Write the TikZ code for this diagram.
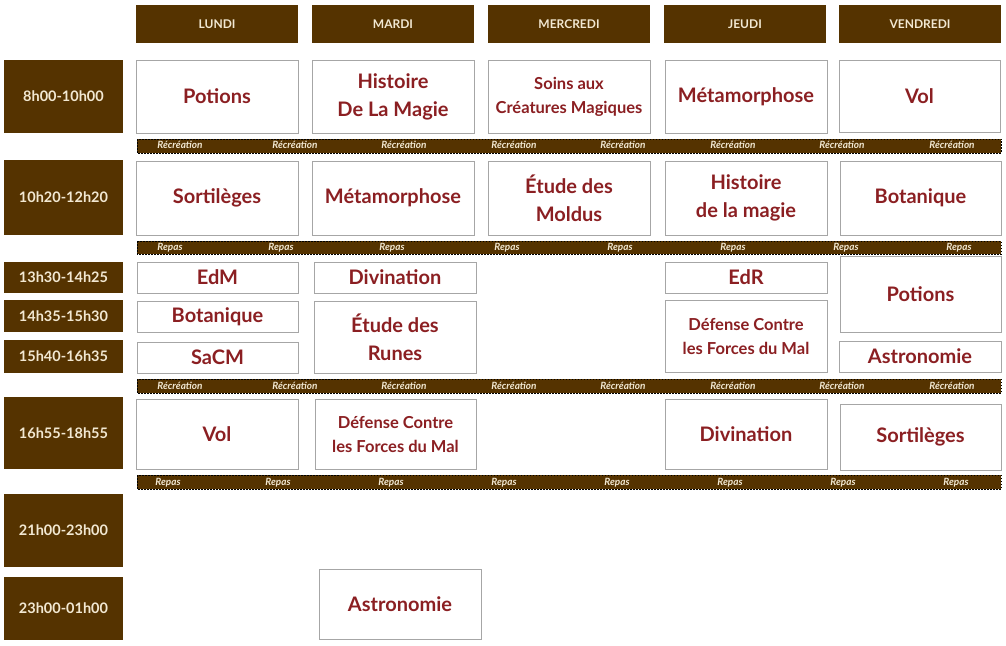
\documentclass[tikz,border=0pt]{standalone}
\usepackage{fontspec}
\setmainfont{Lato}
\begin{document}
\definecolor{br}{HTML}{553300}
\definecolor{rd}{HTML}{8B1F22}
\definecolor{cr}{HTML}{F2E8D2}
\begin{tikzpicture}[x=1pt,y=-1pt,
 cell/.style={draw=gray!70,line width=0.8pt,fill=white,text=rd,font=\bfseries\fontsize{20}{28}\selectfont,align=center},
 small/.style={cell,font=\bfseries\fontsize{16.5}{24}\selectfont},
 hdr/.style={fill=br,text=cr,font=\bfseries\fontsize{12}{14}\selectfont},
 tm/.style={fill=br,text=cr,font=\bfseries\fontsize{14.5}{17}\selectfont},
 bar/.style={fill=br,draw=black,dash pattern=on 1.5pt off 1.5pt,line width=1pt},
 bl/.style={text=cr,font=\bfseries\itshape\fontsize{10}{12}\selectfont}]
\useasboundingbox (0,0) rectangle (1006,645);
\newcommand{\bx}[6]{\node[#1,minimum width={#4-#2},minimum height={#5-#3},inner sep=0pt] (#6) at ({(#2+#4)/2},{(#3+#5)/2})}
% headers
\bx{hdr}{136}{5}{298}{43}{h1} {LUNDI};
\bx{hdr}{312}{5}{474}{43}{h2} {MARDI};
\bx{hdr}{488}{5}{650}{43}{h3} {MERCREDI};
\bx{hdr}{664}{5}{826}{43}{h4} {JEUDI};
\bx{hdr}{839}{5}{1001}{43}{h5} {VENDREDI};
% times
\bx{tm}{4}{60}{123}{133}{t1} {8h00-10h00};
\bx{tm}{4}{160}{123}{235}{t2} {10h20-12h20};
\bx{tm}{4}{262}{123}{293}{t3} {13h30-14h25};
\bx{tm}{4}{300}{123}{332}{t4} {14h35-15h30};
\bx{tm}{4}{340}{123}{373}{t5} {15h40-16h35};
\bx{tm}{4}{397}{123}{469}{t6} {16h55-18h55};
\bx{tm}{4}{494}{123}{567}{t7} {21h00-23h00};
\bx{tm}{4}{577}{123}{640}{t8} {23h00-01h00};
% bars
\draw[bar] (137,139) rectangle (1001,153);
\draw[bar] (137,241) rectangle (1001,254);
\draw[bar] (137,379) rectangle (1001,393);
\draw[bar] (137,475) rectangle (1001,489);
\foreach \x [count=\i] in {180,295,404,514,623,733,842,952}{
 \node[bl] (ra\i) at (\x,145) {Récréation};
 \node[bl] (rb\i) at (\x,386) {Récréation};}
\foreach \x [count=\i] in {170,281,392,507,620,733,846,959}{
 \node[bl] (pa\i) at (\x,247.5) {Repas};}
\foreach \x [count=\i] in {168,278,391,504,617,730,843,956}{
 \node[bl] (pb\i) at (\x,483) {Repas};}
% row 1
\bx{cell}{136}{60}{298}{133}{c11} {Potions};
\bx{cell}{312}{60}{474}{133}{c12} {Histoire\\De La Magie};
\bx{small}{488}{60}{650}{133}{c13} {Soins aux\\Créatures Magiques};
\bx{cell}{665}{60}{827}{133}{c14} {Métamorphose};
\bx{cell}{839}{60}{1000}{132}{c15} {Vol};
% row 2
\bx{cell}{136}{161}{298}{235}{c21} {Sortilèges};
\bx{cell}{312}{161}{474}{235}{c22} {Métamorphose};
\bx{cell}{488}{161}{650}{235}{c23} {Étude des\\Moldus};
\bx{cell}{665}{161}{827}{235}{c24} {Histoire\\de la magie};
\bx{cell}{840}{161}{1001}{235}{c25} {Botanique};
% afternoon
\bx{cell}{137}{262}{298}{293}{c31} {EdM};
\bx{cell}{314}{262}{476}{293}{c32} {Divination};
\bx{cell}{665}{262}{827}{293}{c34} {EdR};
\bx{cell}{840}{256}{1001}{332}{c35} {Potions};
\bx{cell}{137}{301}{298}{332}{c41} {Botanique};
\bx{cell}{314}{301}{476}{373}{c42} {Étude des\\Runes};
\bx{small}{665}{300}{827}{372}{c44} {Défense Contre\\les Forces du Mal};
\bx{cell}{137}{342}{298}{373}{c51} {SaCM};
\bx{cell}{839}{341}{1001}{372}{c55} {Astronomie};
% row 6
\bx{cell}{136}{399}{298}{469}{c61} {Vol};
\bx{small}{315}{399}{476}{469}{c62} {Défense Contre\\les Forces du Mal};
\bx{cell}{665}{399}{827}{469}{c64} {Divination};
\bx{cell}{840}{404}{1001}{470}{c65} {Sortilèges};
\bx{cell}{319}{569}{481}{639}{c82} {Astronomie};
\end{tikzpicture}
\end{document}
